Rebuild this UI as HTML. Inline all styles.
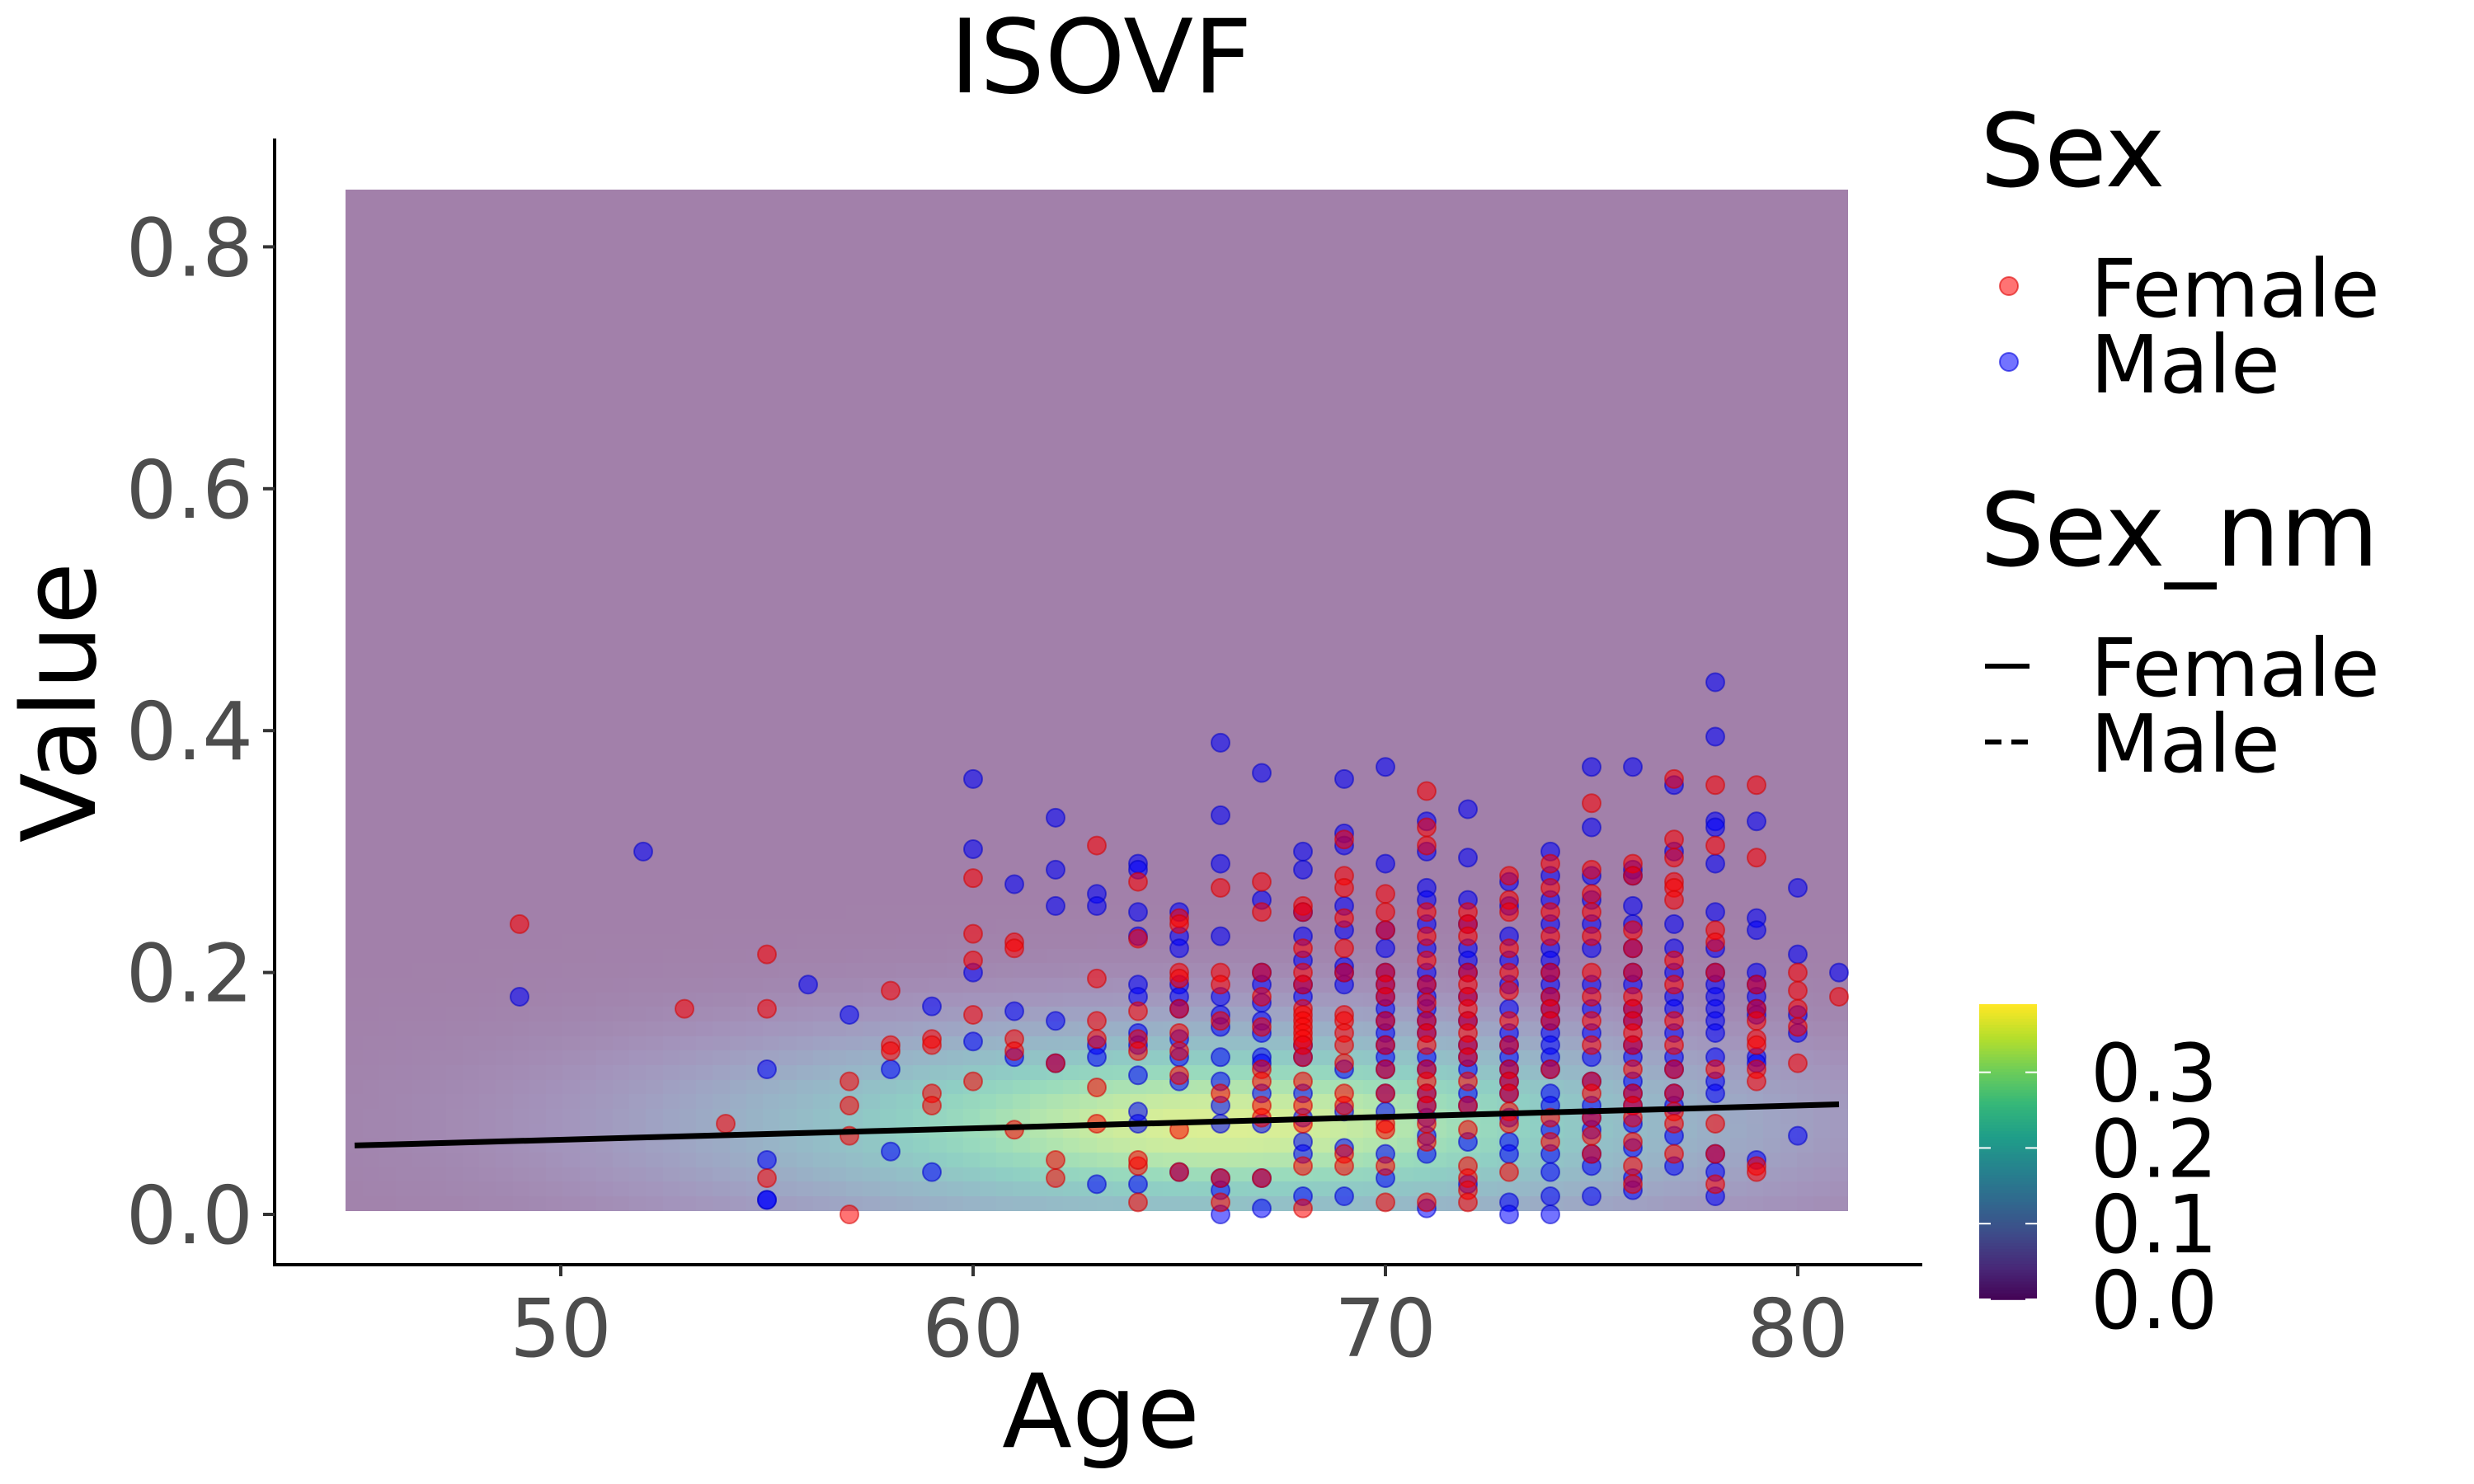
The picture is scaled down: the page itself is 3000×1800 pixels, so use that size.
<!DOCTYPE html>
<html><head><meta charset="utf-8"><style>
html,body{margin:0;padding:0;background:#fff;}
svg{display:block;font-family:"DejaVu Sans","Liberation Sans",sans-serif;}
</style></head><body>
<svg id="chart" width="3000" height="1800" viewBox="0 0 3000 1800" xmlns="http://www.w3.org/2000/svg">
<g id="heat" shape-rendering="crispEdges"></g>
<g id="pts"></g>
<g id="fit"></g>
<g id="axes"></g>
<text x="1335" y="112" font-size="124" text-anchor="middle" fill="#000">ISOVF</text>
<text x="1335" y="1755" font-size="124" text-anchor="middle" fill="#000">Age</text>
<text transform="translate(115,852) rotate(-90)" font-size="124" text-anchor="middle" fill="#000">Value</text>
<g>
<text x="2401" y="226" font-size="123">Sex</text>
<circle cx="2436" cy="347" r="11" fill="rgba(255,0,0,0.55)" stroke="rgba(220,0,0,0.6)" stroke-width="2"/>
<text x="2535" y="384" font-size="97">Female</text>
<circle cx="2436" cy="439" r="11" fill="rgba(0,0,255,0.55)" stroke="rgba(0,0,220,0.6)" stroke-width="2"/>
<text x="2535" y="476" font-size="97">Male</text>
</g>
<g>
<text x="2401" y="686" font-size="123">Sex_nm</text>
<line x1="2407" y1="808" x2="2461" y2="808" stroke="#000" stroke-width="6"/>
<text x="2535" y="844" font-size="97">Female</text>
<line x1="2407" y1="900" x2="2461" y2="900" stroke="#000" stroke-width="6" stroke-dasharray="20,12"/>
<text x="2535" y="936" font-size="97">Male</text>
</g>
<g id="cbar"></g>
</svg>
<script>
const ages=[49,52,53,54,55,56,57,58,59,60,61,62,63,64,65,66,67,68,69,70,71,72,73,74,75,76,77,78,79,80,81];
const femaleVals=[[0.24],[],[0.17],[0.075],[0.215,0.17,0.03],[],[0.11,0.09,0.065,0.0],[0.185,0.14,0.135],[0.145,0.14,0.1,0.09],
[0.278,0.232,0.21,0.165,0.11],[0.225,0.22,0.145,0.135,0.07],[0.125,0.045,0.03],[0.305,0.195,0.16,0.145,0.105,0.075],
[0.275,0.228,0.168,0.145,0.135,0.04,0.045,0.01],[0.245,0.24,0.2,0.195,0.17,0.15,0.135,0.115,0.07,0.035],
[0.27,0.2,0.19,0.16,0.1,0.03,0.01],[0.275,0.25,0.2,0.18,0.155,0.12,0.11,0.09,0.08,0.03],
[0.255,0.25,0.22,0.2,0.19,0.17,0.165,0.16,0.155,0.15,0.145,0.14,0.13,0.11,0.09,0.075,0.04,0.005],
[0.31,0.28,0.27,0.245,0.22,0.2,0.165,0.16,0.15,0.14,0.125,0.1,0.09,0.05,0.04],
[0.265,0.25,0.235,0.2,0.19,0.18,0.16,0.14,0.12,0.1,0.075,0.07,0.04,0.01],
[0.35,0.32,0.305,0.25,0.23,0.21,0.19,0.175,0.16,0.15,0.14,0.12,0.11,0.1,0.09,0.075,0.06,0.01],
[0.25,0.24,0.23,0.2,0.19,0.18,0.17,0.16,0.15,0.14,0.13,0.11,0.09,0.07,0.04,0.03,0.02,0.01],
[0.28,0.26,0.25,0.22,0.2,0.185,0.16,0.14,0.12,0.11,0.1,0.085,0.075,0.035],
[0.29,0.27,0.25,0.23,0.2,0.18,0.17,0.16,0.12,0.08,0.06],
[0.34,0.285,0.265,0.25,0.23,0.2,0.18,0.16,0.14,0.11,0.1,0.08,0.065,0.05],
[0.29,0.28,0.235,0.22,0.2,0.18,0.17,0.16,0.15,0.14,0.12,0.1,0.09,0.08,0.06,0.04,0.025],
[0.36,0.31,0.295,0.275,0.27,0.26,0.21,0.19,0.16,0.14,0.12,0.1,0.085,0.075,0.05],
[0.355,0.305,0.235,0.225,0.2,0.12,0.075,0.05,0.025],
[0.355,0.295,0.19,0.17,0.16,0.145,0.14,0.12,0.11,0.04,0.035],
[0.2,0.185,0.17,0.155,0.125],[0.18]];
const maleVals=[[0.18],[0.30],[],[],[0.12,0.045,0.012,0.012],[0.19],[0.165],[0.12,0.052],[0.172,0.035],
[0.36,0.302,0.2,0.143],[0.273,0.168,0.13],[0.328,0.285,0.255,0.16,0.125],[0.265,0.255,0.14,0.13,0.025],
[0.29,0.285,0.25,0.23,0.19,0.18,0.15,0.14,0.115,0.085,0.075,0.025],[0.25,0.23,0.22,0.19,0.18,0.17,0.145,0.13,0.11,0.035],
[0.39,0.33,0.29,0.23,0.18,0.165,0.155,0.13,0.11,0.09,0.075,0.03,0.02,0.0],
[0.365,0.26,0.2,0.19,0.175,0.16,0.15,0.13,0.125,0.1,0.075,0.03,0.005],
[0.3,0.285,0.25,0.23,0.21,0.19,0.18,0.14,0.13,0.1,0.08,0.06,0.05,0.015],
[0.36,0.315,0.305,0.255,0.235,0.205,0.2,0.19,0.12,0.085,0.055,0.015],
[0.37,0.29,0.235,0.22,0.2,0.19,0.18,0.17,0.16,0.15,0.14,0.13,0.12,0.1,0.085,0.05,0.03],
[0.325,0.3,0.27,0.26,0.24,0.22,0.2,0.19,0.18,0.17,0.16,0.15,0.13,0.12,0.1,0.09,0.08,0.065,0.05,0.005],
[0.335,0.295,0.26,0.24,0.22,0.21,0.2,0.18,0.16,0.14,0.13,0.12,0.1,0.09,0.06,0.025],
[0.275,0.255,0.23,0.21,0.19,0.17,0.15,0.14,0.13,0.12,0.11,0.1,0.08,0.06,0.05,0.01,0.0],
[0.3,0.28,0.26,0.24,0.22,0.21,0.2,0.19,0.18,0.17,0.16,0.15,0.14,0.13,0.12,0.1,0.09,0.07,0.05,0.035,0.015,0.0],
[0.37,0.32,0.28,0.26,0.24,0.22,0.19,0.17,0.15,0.13,0.11,0.09,0.08,0.07,0.05,0.04,0.015],
[0.37,0.285,0.28,0.255,0.24,0.22,0.2,0.19,0.17,0.16,0.14,0.13,0.11,0.1,0.09,0.075,0.055,0.03,0.02],
[0.355,0.3,0.24,0.22,0.2,0.18,0.17,0.15,0.13,0.12,0.1,0.09,0.065,0.04],
[0.44,0.395,0.325,0.32,0.29,0.25,0.22,0.2,0.19,0.18,0.17,0.16,0.15,0.13,0.11,0.1,0.05,0.035,0.015],
[0.325,0.245,0.235,0.2,0.19,0.18,0.17,0.165,0.13,0.125,0.045],
[0.27,0.215,0.165,0.15,0.065],[0.2]];
const xTicks=[50,60,70,80];
const yTicks=[0.0,0.2,0.4,0.6,0.8];
const fitAges=[45,81];
const fitVals=[0.057,0.091];
const cbarTicks=[0.0,0.1,0.2,0.3];
const densPeak=0.35, densAge=66, densVal=0.075, densSdAge=8, densSdVal=0.055;

const NS='http://www.w3.org/2000/svg';
const X=a=>680+(a-50)*50;
const Y=v=>1473-v*1467;
function mk(tag,attrs,parent){const e=document.createElementNS(NS,tag);for(const k in attrs)e.setAttribute(k,attrs[k]);parent.appendChild(e);return e;}
const vir=[[68,1,84],[72,40,120],[62,74,137],[49,104,142],[38,130,142],[31,158,137],[53,183,121],[109,205,89],[180,222,44],[253,231,37]];
function virRGB(t){t=Math.max(0,Math.min(1,t))*(vir.length-1);const i=Math.min(Math.floor(t),vir.length-2),f=t-i;return vir[i].map((v,k)=>v+(vir[i+1][k]-v)*f);}
function viridis(t){return 'rgb('+virRGB(t).map(Math.round).join(',')+')';}
function viridisHalf(t){return 'rgb('+virRGB(t).map(v=>Math.round(v*0.5+127.5)).join(',')+')';}
const cmax=0.39;
const heat=document.getElementById('heat');
const a0=44.8,a1=81.2,v0=0.004,v1=0.847,nx=90,ny=70;
for(let i=0;i<nx;i++)for(let j=0;j<ny;j++){
 const a=a0+(i+0.5)*(a1-a0)/nx, v=v0+(j+0.5)*(v1-v0)/ny;
 const d=densPeak*Math.exp(-((a-densAge)**2)/(2*densSdAge**2)-((v-densVal)**2)/(2*densSdVal**2));
 const xa=X(a0+i*(a1-a0)/nx), xb=X(a0+(i+1)*(a1-a0)/nx), ya=Y(v0+(j+1)*(v1-v0)/ny), yb=Y(v0+j*(v1-v0)/ny);
 const r=mk('rect',{x:Math.floor(xa),y:Math.floor(ya),width:Math.ceil(xb)-Math.floor(xa)+1,height:Math.ceil(yb)-Math.floor(ya)+1,fill:viridisHalf(d/cmax)},heat);
 
 
}
const pts=document.getElementById('pts');
ages.forEach((a,i)=>{
 const draw=(vals,fill,stroke,name)=>vals.forEach(v=>{
  const c=mk('circle',{cx:X(a),cy:Y(v),r:11,fill:fill,stroke:stroke,'stroke-width':2},pts);
  
  
 });
 draw(maleVals[i],'rgba(0,0,255,0.55)','rgba(0,0,200,0.55)','male-point');
 draw(femaleVals[i],'rgba(255,0,0,0.55)','rgba(210,0,0,0.55)','female-point');
});
const fit=document.getElementById('fit');
const fl=mk('line',{x1:X(fitAges[0]),y1:Y(fitVals[0]),x2:X(fitAges[1]),y2:Y(fitVals[1]),stroke:'#000','stroke-width':7},fit);


const ax=document.getElementById('axes');
mk('line',{x1:333,y1:168,x2:333,y2:1534,stroke:'#000','stroke-width':4},ax);
mk('line',{x1:331,y1:1534,x2:2331,y2:1534,stroke:'#000','stroke-width':4},ax);
xTicks.forEach(t=>{
 const l=mk('line',{x1:X(t),y1:1534,x2:X(t),y2:1548,stroke:'#333','stroke-width':4},ax);
 
 const tx=mk('text',{x:X(t),y:1645,'font-size':97,'text-anchor':'middle',fill:'#4d4d4d'},ax);tx.textContent=t;
 
 
});
yTicks.forEach(t=>{
 const l=mk('line',{x1:319,y1:Y(t),x2:333,y2:Y(t),stroke:'#333','stroke-width':4},ax);
 
 const tx=mk('text',{x:307,y:Y(t)+35,'font-size':97,'text-anchor':'end',fill:'#4d4d4d'},ax);tx.textContent=t.toFixed(1);
 
 
});
const cb=document.getElementById('cbar');
const cbTop=1218,cbBot=1576,cbX=2400,cbW=70;
const CY=v=>cbBot-v/cmax*(cbBot-cbTop);
for(let k=0;k<100;k++){
 const y=cbTop+k*(cbBot-cbTop)/100;
 const r=mk('rect',{x:cbX,y:y,width:cbW,height:(cbBot-cbTop)/100+0.8,fill:viridis(1-k/100)},cb);
 
 
}
cbarTicks.forEach(t=>{
 mk('line',{x1:cbX,y1:CY(t),x2:cbX+14,y2:CY(t),stroke:'#fff','stroke-width':2},cb);
 mk('line',{x1:cbX+cbW-14,y1:CY(t),x2:cbX+cbW,y2:CY(t),stroke:'#fff','stroke-width':2},cb);
 const tx=mk('text',{x:2535,y:CY(t)+35,'font-size':97,fill:'#000'},cb);tx.textContent=t.toFixed(1);
 
 
});
</script>
</body></html>
